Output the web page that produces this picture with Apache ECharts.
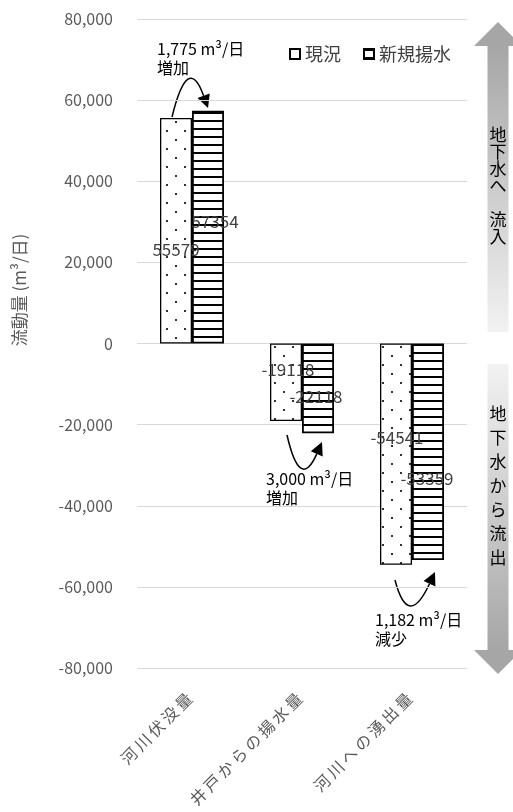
<!DOCTYPE html>
<html>
<head>
<meta charset="utf-8">
<script src="https://cdn.jsdelivr.net/npm/echarts@6/dist/echarts.min.js"></script>
<style>
  html, body { margin: 0; padding: 0; background: #fff; }
  #main { width: 513px; height: 812px; }
</style>
</head>
<body>
<div id="main"></div>
<script>
// 区分
const categories = ['河川伏没量', '井戸からの揚水量', '河川への湧出量'];
const seriesNames = ['現況', '新規揚水'];
// 流動量 (m3/日)
const currentValues = [55579, -19118, -54541];
const newValues = [57354, -22118, -53359];
// 軸目盛
const yMin = -80000;
const yMax = 80000;
const yStep = 20000;

// ラベルのずれ（元の図に合わせる）
const currentLabelOffsets = [[0, 19], [2, -13], [1, -17]];
const newLabelOffsets = [[7, -6], [-2, 8], [-1, 27]];

const FONT = '"Noto Sans CJK JP", "Noto Sans", sans-serif';

// 点模様
function dotPattern() {
  let c = document.createElement('canvas');
  c.width = 18; c.height = 18;
  let ctx = c.getContext('2d');
  ctx.fillStyle = '#fff';
  ctx.fillRect(0, 0, 18, 18);
  ctx.fillStyle = '#333';
  ctx.fillRect(4, 4, 2, 2);
  ctx.fillRect(13, 13, 2, 2);
  return c;
}
// 横縞模様
function stripePattern() {
  let c = document.createElement('canvas');
  c.width = 8; c.height = 8;
  let ctx = c.getContext('2d');
  ctx.fillStyle = '#fff';
  ctx.fillRect(0, 0, 8, 8);
  ctx.fillStyle = '#000';
  ctx.fillRect(0, 0, 8, 2);
  return c;
}

// 曲がった矢印
function curvedArrow(sx, sy, cx, cy, tx, ty) {
  let dx = tx - cx, dy = ty - cy;
  let len = Math.sqrt(dx * dx + dy * dy);
  let ux = dx / len, uy = dy / len;
  let headLen = 13, headW = 6.5;
  let bx = tx - ux * headLen, by = ty - uy * headLen;
  return [
    {
      type: 'bezierCurve',
      shape: { x1: sx, y1: sy, cpx1: cx, cpy1: cy, x2: bx, y2: by },
      style: { stroke: '#000', lineWidth: 1.5, fill: null }
    },
    {
      type: 'polygon',
      shape: { points: [[tx, ty], [bx - uy * headW, by + ux * headW], [bx + uy * headW, by - ux * headW]] },
      style: { fill: '#000' }
    }
  ];
}

function annotationText(x, y, text) {
  return {
    type: 'text',
    x: x, y: y,
    style: { text: text, font: '16px ' + FONT, fill: '#000', lineHeight: 19 }
  };
}

let myChart = echarts.init(document.getElementById('main'));

const arrowX = 498;
let graphics = [
  // 右側の大きな矢印（上向き）
  { type: 'polygon', shape: { points: [[arrowX, 22], [arrowX - 24, 46], [arrowX + 24, 46]] }, style: { fill: '#a6a6a6' } },
  {
    type: 'rect', shape: { x: arrowX - 10.5, y: 46, width: 21, height: 286 },
    style: { fill: new echarts.graphic.LinearGradient(0, 0, 0, 1, [{ offset: 0, color: '#a6a6a6' }, { offset: 1, color: '#f2f2f2' }]) }
  },
  // 下向き
  {
    type: 'rect', shape: { x: arrowX - 10.5, y: 364, width: 21, height: 286 },
    style: { fill: new echarts.graphic.LinearGradient(0, 0, 0, 1, [{ offset: 0, color: '#f2f2f2' }, { offset: 1, color: '#a6a6a6' }]) }
  },
  { type: 'polygon', shape: { points: [[arrowX, 674], [arrowX - 24, 650], [arrowX + 24, 650]] }, style: { fill: '#a6a6a6' } },
  {
    type: 'text', x: arrowX, y: 126,
    style: { text: '地\n下\n水\nへ\n \n流\n入', font: '17px ' + FONT, fill: '#000', align: 'center', lineHeight: 17 }
  },
  {
    type: 'text', x: arrowX, y: 402,
    style: { text: '地\n下\n水\nか\nら\n流\n出', font: '17px ' + FONT, fill: '#000', align: 'center', lineHeight: 24 }
  },
  // 縦軸タイトル
  {
    type: 'text', x: 20, y: 290, rotation: Math.PI / 2,
    style: { text: '流動量 (m³/日)', font: '17px ' + FONT, fill: '#595959', align: 'center', verticalAlign: 'middle' }
  },
  annotationText(157, 39, '1,775 m³/日\n増加'),
  annotationText(266, 469, '3,000 m³/日\n増加'),
  annotationText(375, 610, '1,182 m³/日\n減少')
];
graphics = graphics
  .concat(curvedArrow(172, 117, 188, 52, 208, 108))
  .concat(curvedArrow(287, 435, 300, 492, 322, 442))
  .concat(curvedArrow(395, 580, 408, 630, 435, 572));

const labelStyle = { show: true, position: 'inside', color: '#404040', fontSize: 17, textBorderWidth: 0, textShadowBlur: 0 };

myChart.setOption({
  animation: false,
  textStyle: { fontFamily: FONT },
  grid: { left: 137, right: 46, top: 19, bottom: 144, containLabel: false, outerBoundsMode: 'none' },
  legend: {
    data: [
      { name: seriesNames[0], itemStyle: { color: '#fff' } },
      { name: seriesNames[1] }
    ],
    left: 284,
    top: 40,
    icon: 'rect',
    itemWidth: 10,
    itemHeight: 10,
    itemGap: 22,
    textStyle: { color: '#404040', fontSize: 18, fontFamily: FONT }
  },
  xAxis: {
    type: 'category',
    data: categories,
    axisLine: { show: false },
    axisTick: { show: false },
    axisLabel: {
      rotate: 45,
      margin: 25,
      padding: [0, 4, 0, 0],
      color: '#595959',
      fontSize: 16,
      interval: 0,
      // 元の図は文字間が少し広い
      formatter: function (v) { return v.split('').join('\u2009'); }
    }
  },
  yAxis: {
    type: 'value',
    min: yMin,
    max: yMax,
    interval: yStep,
    axisLine: { show: false },
    axisTick: { show: false },
    splitLine: { lineStyle: { color: '#d9d9d9', width: 1 } },
    axisLabel: {
      margin: 24,
      color: '#595959',
      fontSize: 16,
      formatter: function (v) { return v.toLocaleString('en-US'); }
    }
  },
  series: [
    {
      name: seriesNames[0],
      type: 'bar',
      barWidth: 32,
      barGap: '0%',
      itemStyle: { color: { image: dotPattern(), repeat: 'repeat' }, borderColor: '#000', borderWidth: 1.3 },
      label: labelStyle,
      data: currentValues.map(function (v, i) { return { value: v, label: { offset: currentLabelOffsets[i] } }; })
    },
    {
      name: seriesNames[1],
      type: 'bar',
      barWidth: 32,
      barGap: '0%',
      itemStyle: { color: { image: stripePattern(), repeat: 'repeat' }, borderColor: '#000', borderWidth: 1.8 },
      label: labelStyle,
      data: newValues.map(function (v, i) { return { value: v, label: { offset: newLabelOffsets[i] } }; })
    }
  ],
  graphic: graphics
});
</script>
</body>
</html>
